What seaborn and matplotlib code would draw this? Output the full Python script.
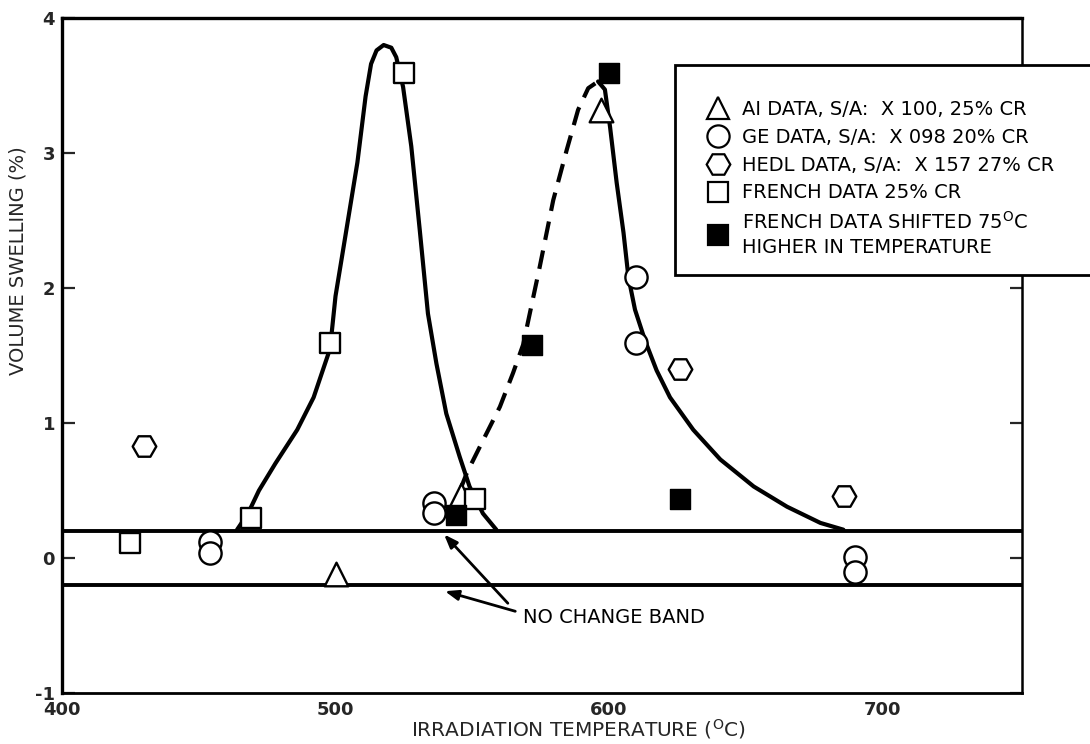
"""Volume swelling vs irradiation temperature, with the no change band."""

import matplotlib.pyplot as plt
import seaborn as sns
from matplotlib.lines import Line2D
from matplotlib.patches import Rectangle

# === Data === #
ai_temp = [500, 546, 597]
ai_swell = [-0.12, 0.47, 3.32]

ge_temp = [454, 454, 536, 536, 610, 610, 690, 690]
ge_swell = [0.12, 0.04, 0.41, 0.33, 2.08, 1.59, 0.01, -0.10]

hedl_temp = [430, 626, 686]
hedl_swell = [0.83, 1.40, 0.46]

french_temp = [425, 469, 498, 525, 551]
french_swell = [0.11, 0.30, 1.59, 3.59, 0.44]

shifted_temp = [544, 572, 600, 626]
shifted_swell = [0.32, 1.58, 3.59, 0.44]

curve1_temp = [464, 468, 472, 478, 486, 492, 498, 500, 503, 508, 511, 513, 515,
               517.6, 520.4, 522.2, 524.7, 527.7, 530.8, 533.8, 536.9, 540.5,
               545.4, 549, 553.9, 558.8]
curve1_swell = [0.21, 0.33, 0.50, 0.70, 0.95, 1.19, 1.55, 1.94, 2.31, 2.93, 3.42,
                3.66, 3.76, 3.80, 3.78, 3.71, 3.49, 3.05, 2.43, 1.81, 1.44, 1.07,
                0.75, 0.53, 0.33, 0.21]

dashed_temp = [545.5, 548, 553.9, 560.1, 564.9, 568.6, 574.7, 579.6, 584.5,
               588.7, 592.4, 596]
dashed_swell = [0.50, 0.63, 0.87, 1.12, 1.37, 1.58, 2.16, 2.65, 3.02, 3.32, 3.48,
                3.53]

curve2_temp = [596, 598.5, 600.4, 602.8, 605.3, 607.1, 609.5, 613.2, 617.4,
               622.3, 630.8, 640.7, 652.9, 665.1, 677.3, 685.7]
curve2_swell = [3.53, 3.47, 3.19, 2.78, 2.41, 2.08, 1.84, 1.61, 1.39, 1.19, 0.95,
                0.73, 0.53, 0.38, 0.26, 0.21]

band_limits = [0.2, -0.2]

x_ticks = [400, 500, 600, 700]
x_minor = [450, 550, 650]
y_ticks = [-1, 0, 1, 2, 3, 4]

legend_labels = [
    "AI DATA, S/A:  X 100, 25% CR",
    "GE DATA, S/A:  X 098 20% CR",
    "HEDL DATA, S/A:  X 157 27% CR",
    "FRENCH DATA 25% CR",
    "FRENCH DATA SHIFTED 75$^{\\mathregular{O}}$C\nHIGHER IN TEMPERATURE",
]

sns.set_style("white")
plt.rcParams["font.family"] = ["DejaVu Sans"]
plt.rcParams["text.color"] = "black"

fig = plt.figure(figsize=(10.9, 7.44), dpi=100)
ax = fig.add_axes([0.0569, 0.0685, 0.8807, 0.9073])

# trend curves
sns.lineplot(x=curve1_temp, y=curve1_swell, sort=False, estimator=None,
             color="black", lw=3, ax=ax, zorder=2)
sns.lineplot(x=curve2_temp, y=curve2_swell, sort=False, estimator=None,
             color="black", lw=3, ax=ax, zorder=2)
sns.lineplot(x=dashed_temp, y=dashed_swell, sort=False, estimator=None,
             color="black", lw=3, linestyle=(0, (4.5, 2.6)), ax=ax, zorder=2)

# no change band
for lim in band_limits:
    ax.axhline(lim, color="black", lw=2.8, zorder=1)

# data points
open_kws = dict(facecolor="white", edgecolor="black", linewidth=1.7, zorder=4)
sns.scatterplot(x=ai_temp, y=ai_swell, marker="^", s=17 ** 2, ax=ax, **open_kws)
sns.scatterplot(x=ge_temp, y=ge_swell, marker="o", s=16 ** 2, ax=ax, **open_kws)
sns.scatterplot(x=hedl_temp, y=hedl_swell, marker="H", s=17 ** 2, ax=ax, **open_kws)
sns.scatterplot(x=french_temp, y=french_swell, marker="s", s=15 ** 2, ax=ax,
                **open_kws)
sns.scatterplot(x=shifted_temp, y=shifted_swell, marker="s", s=14.5 ** 2,
                facecolor="black", edgecolor="black", linewidth=1, ax=ax, zorder=4)

# annotation arrows
arrow_kws = dict(arrowstyle="-|>,head_length=0.8,head_width=0.3", color="black",
                 lw=2)
ax.annotate("", xy=(539, 0.19), xytext=(563.7, -0.35), arrowprops=arrow_kws)
ax.annotate("", xy=(539, -0.24), xytext=(566.7, -0.40), arrowprops=arrow_kws)
ax.text(568.5, -0.44, "NO CHANGE BAND", fontsize=14, ha="left", va="center")

# axes styling
ax.set_xlim(400, 751)
ax.set_ylim(-1, 4)
ax.set_xticks(x_ticks)
ax.set_xticks(x_minor, minor=True)
ax.set_yticks(y_ticks)
ax.set_xticklabels([str(t) for t in x_ticks], fontsize=13, fontweight="bold")
ax.set_yticklabels([str(t) for t in y_ticks], fontsize=13, fontweight="bold")
ax.tick_params(axis="x", which="major", direction="in", length=25, width=1.6,
               pad=6, top=False)
ax.tick_params(axis="x", which="minor", direction="in", length=11, width=1.6,
               top=False)
ax.tick_params(axis="y", direction="in", length=9, width=1.6, pad=5,
               left=True, right=True)
for side, lw in (("left", 2.4), ("top", 2.4), ("bottom", 2.0), ("right", 1.8)):
    ax.spines[side].set_color("black")
    ax.spines[side].set_linewidth(lw)
ax.grid(False)

ax.set_xlabel("IRRADIATION TEMPERATURE ($^{\\mathregular{O}}$C)", fontsize=14.5)
ax.set_ylabel("VOLUME SWELLING (%)", fontsize=14)
ax.xaxis.set_label_coords(0.5375, -0.036)
ax.yaxis.set_label_coords(-0.036, 0.64)

# legend box (runs off the right edge of the figure)
fig.add_artist(Rectangle((0.619, 0.630), 0.45, 0.282, transform=fig.transFigure,
                         facecolor="white", edgecolor="black", lw=2, zorder=3))
handle_kws = dict(ls="none", mec="black", mew=1.6)
handles = [
    Line2D([], [], marker="^", ms=16, mfc="white", **handle_kws),
    Line2D([], [], marker="o", ms=16, mfc="white", **handle_kws),
    Line2D([], [], marker="H", ms=17, mfc="white", **handle_kws),
    Line2D([], [], marker="s", ms=15, mfc="white", **handle_kws),
    Line2D([], [], marker="s", ms=14.5, mfc="black", **handle_kws),
]
leg = fig.legend(handles, legend_labels, loc="upper left",
                 bbox_to_anchor=(0.6335, 0.889), frameon=False, fontsize=14,
                 handlelength=1.0, handletextpad=0.74, labelspacing=0.45,
                 borderpad=0.4)
leg.get_texts()[-1].set_linespacing(1.35)

plt.savefig("out.png", dpi=100)
plt.close()
